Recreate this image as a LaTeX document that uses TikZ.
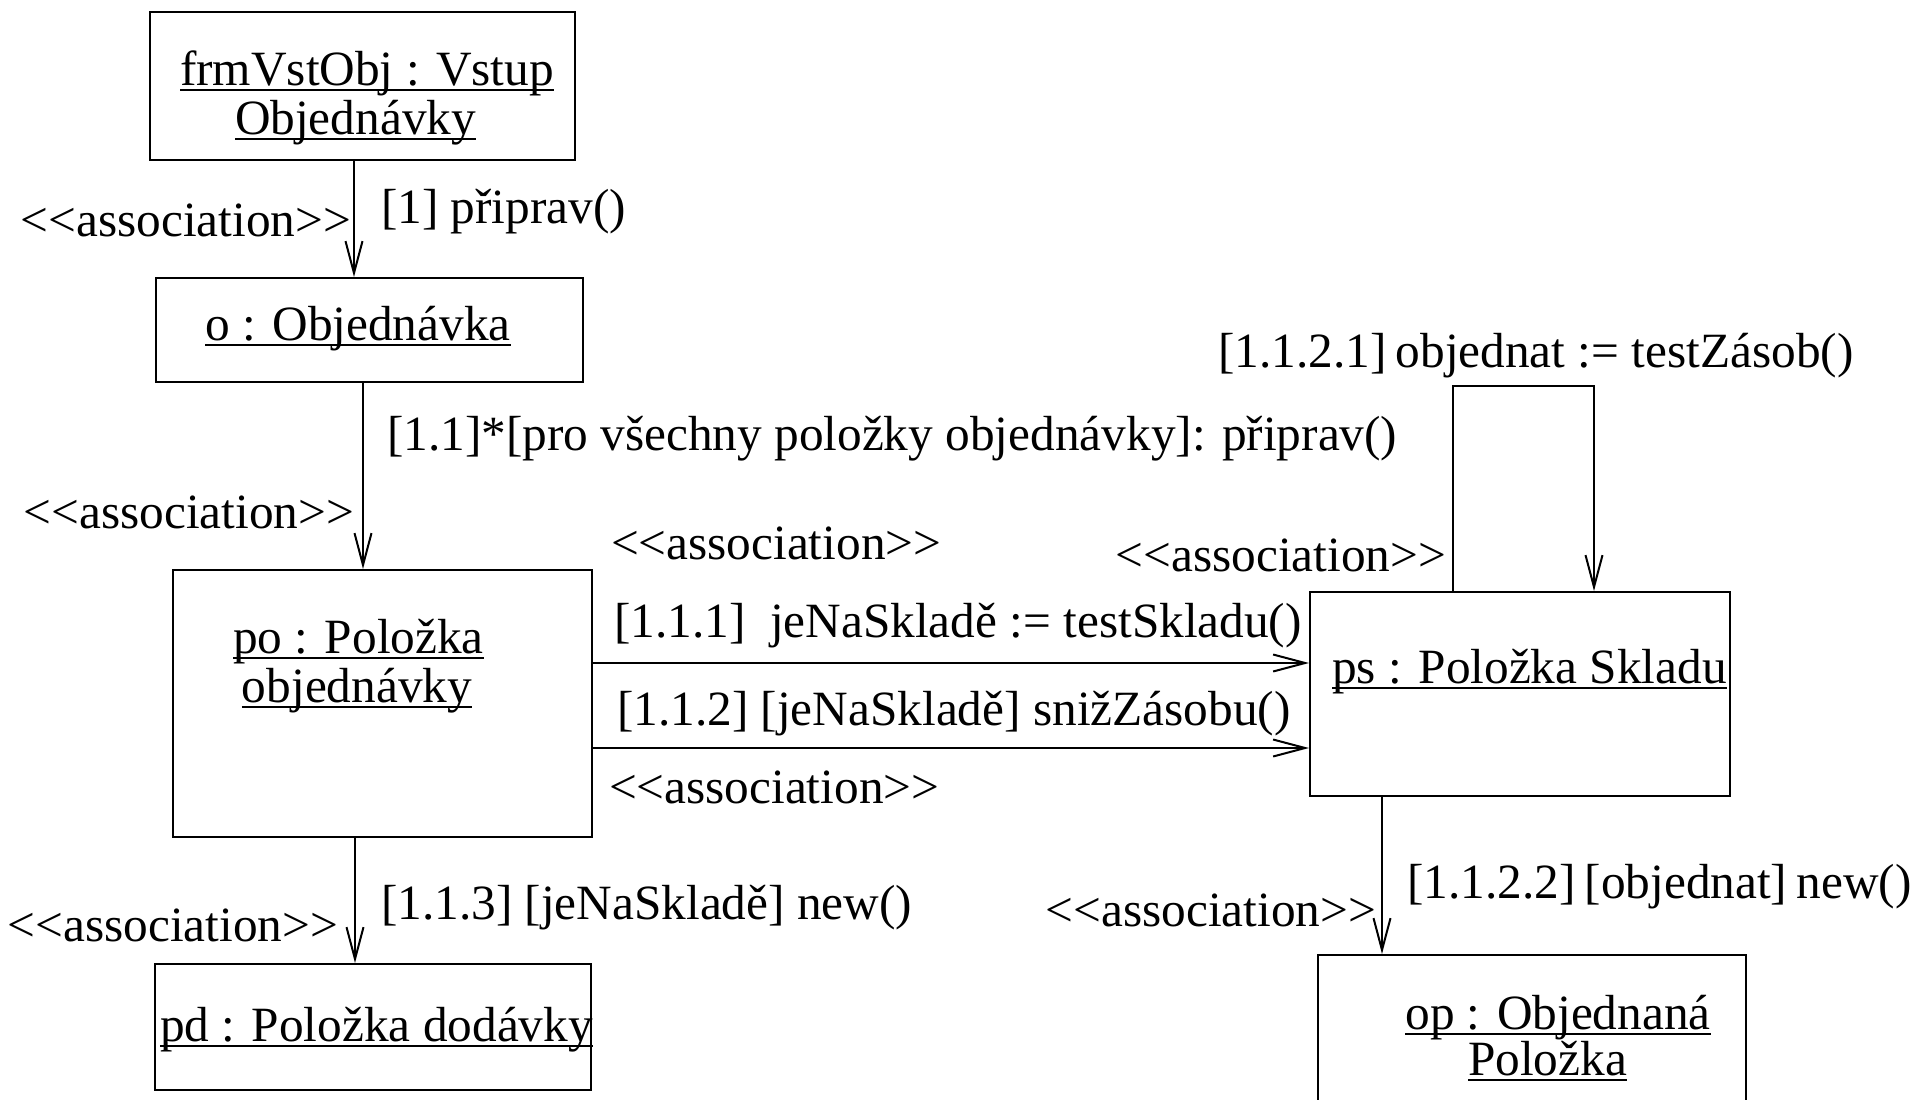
\documentclass[tikz,border=0pt]{standalone}
\usepackage{fontspec}
\setmainfont{Liberation Serif}
\usetikzlibrary{arrows.meta,calc}
% underline at a fixed depth below the baseline, crossing the descenders
\newcommand\ulin[1]{\leavevmode\setbox0\hbox{#1}\rlap{\rule[-6pt]{\wd0}{2.4pt}}\box0}
% stereotype text, kept free of guillemet ligatures
\newcommand\assoc{<{}<association>{}>}
\begin{document}
\begin{tikzpicture}[x=1pt,y=-1pt,line width=2pt,
  obj/.style={draw,rectangle,inner sep=0pt},
  txt/.style={inner sep=0pt,font=\fontsize{49.3}{49.3}\selectfont},
  msg/.style={-{Straight Barb[length=32pt,width=17pt]}}]
\clip (0,0) rectangle (1914,1100);
\fill[white] (0,0) rectangle (1914,1100);

% objects
\node[obj,minimum width=425pt,minimum height=148pt] (frm) at (362.5,86) {};
\node[obj,minimum width=427pt,minimum height=104pt] (o) at (369.5,330) {};
\node[obj,minimum width=419pt,minimum height=267pt] (po) at (382.5,703.5) {};
\node[obj,minimum width=436pt,minimum height=126pt] (pd) at (373,1027) {};
\node[obj,minimum width=420pt,minimum height=204pt] (ps) at (1520,694) {};
\node[obj,minimum width=428pt,minimum height=175pt] (op) at (1532,1042.5) {};

% object names
\node[txt,anchor=base] (tfrma) at (367,85) {\ulin{frmVstObj : Vstup}};
\node[txt,anchor=base] (tfrmb) at (355.5,134) {\ulin{Objednávky}};
\node[txt,anchor=base] (to) at (358,340) {\ulin{o : Objednávka}};
\node[txt,anchor=base] (tpoa) at (358.5,653) {\ulin{po : Položka}};
\node[txt,anchor=base] (tpob) at (357,702) {\ulin{objednávky}};
\node[txt,anchor=base] (tpd) at (376.5,1041) {\ulin{pd : Položka dodávky}};
\node[txt,anchor=base] (tps) at (1529.5,683) {\ulin{ps : Položka Skladu}};
\node[txt,anchor=base] (topa) at (1558,1029) {\ulin{op : Objednaná}};
\node[txt,anchor=base] (topb) at (1547.5,1075) {\ulin{Položka}};

% links with messages
\draw[msg] ([xshift=-8.5pt]frm.south) -- ([xshift=-8.5pt]frm.south |- o.north);
\draw[msg] ([xshift=-6.5pt]o.south) -- ([xshift=-6.5pt]o.south |- po.north);
\draw[msg] ([xshift=-27.5pt]po.south) -- ([xshift=-27.5pt]po.south |- pd.north);
\draw[msg] ([yshift=40.5pt]po.east) -- ([yshift=40.5pt]po.east -| ps.west);
\draw[msg] ([yshift=-44.5pt]po.east) -- ([yshift=-44.5pt]po.east -| ps.west);
\draw[msg] ([xshift=-67pt]ps.north) -- ++(0,-205) -| ([xshift=74pt]ps.north);
\draw[msg] ([xshift=-138pt]ps.south) -- ([xshift=-138pt]ps.south |- op.north);

% stereotypes
\node[txt,anchor=base east] (sa) at (352,236) {\assoc};
\node[txt,anchor=base east] (sb) at (355,528) {\assoc};
\node[txt,anchor=base west] (sc) at (610,559) {\assoc};
\node[txt,anchor=base west] (sd) at (608,803) {\assoc};
\node[txt,anchor=base east] (se) at (1447,571) {\assoc};
\node[txt,anchor=base east] (sf) at (1377,926) {\assoc};
\node[txt,anchor=base east] (sg) at (339,941) {\assoc};

% messages
\node[txt,anchor=base west] (ma) at (380,223) {[1] připrav()};
\node[txt,anchor=base west] (mb) at (386,450) {[1.1]*[pro všechny položky objednávky]: připrav()};
\node[txt,anchor=base west] (mc) at (613,637) {[1.1.1]\ \ jeNaSkladě := testSkladu()};
\node[txt,anchor=base west] (md) at (616,725) {[1.1.2] [jeNaSkladě] snižZásobu()};
\node[txt,anchor=base west] (me) at (1217,367) {[1.1.2.1]\hspace{-3pt} objednat := testZásob()};
\node[txt,anchor=base west] (mf) at (1406,898) {[1.1.2.2]\hspace{-3pt} [objednat]\hspace{-3pt} new()};
\node[txt,anchor=base west] (mg) at (380,919) {[1.1.3] [jeNaSkladě] new()};
\end{tikzpicture}
\end{document}
